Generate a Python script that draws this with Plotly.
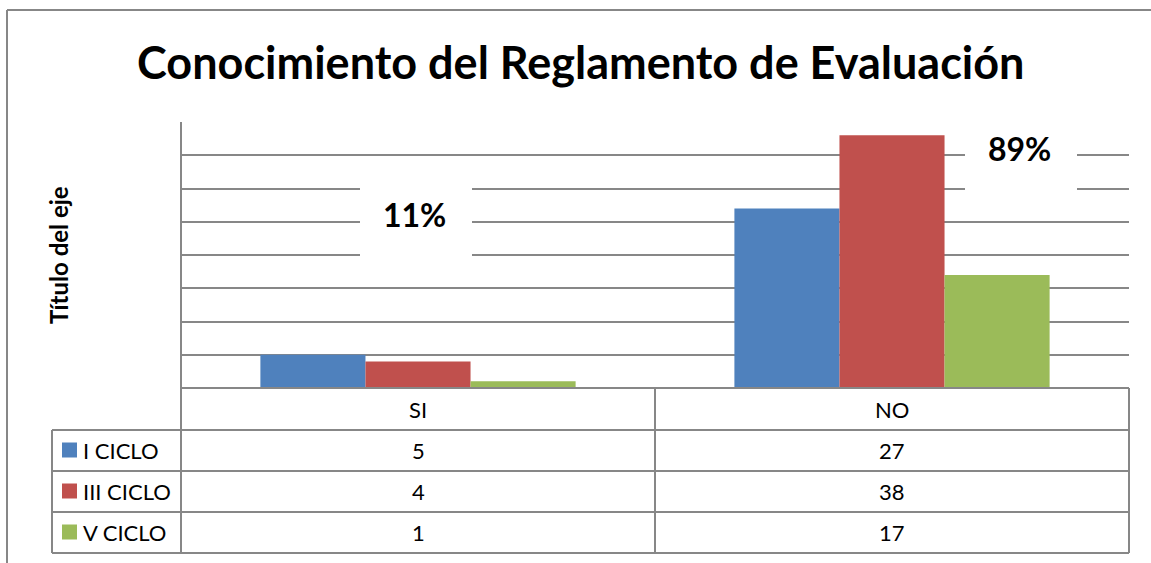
import plotly.graph_objects as go

# ---- data ----
categories = ["SI", "NO"]
series_names = ["I CICLO", "III CICLO", "V CICLO"]
i_ciclo = [5, 27]
iii_ciclo = [4, 38]
v_ciclo = [1, 17]
percent_labels = ["11%", "89%"]
title_text = "Conocimiento del Reglamento de Evaluación"
y_title = "Título del eje"
y_max = 40
y_step = 5

series_values = [i_ciclo, iii_ciclo, v_ciclo]
colors = ["#4F81BD", "#C0504D", "#9BBB59"]

W, H = 1151, 563
FONT = "Lato"
GRID = "#878787"


def px(x):
    return x / W


def py(y):
    return 1 - y / H


fig = go.Figure()
for name, vals, col in zip(series_names, series_values, colors):
    fig.add_trace(go.Bar(x=categories, y=vals, name=name,
                         marker=dict(color=col, line=dict(width=0))))

shapes = []


def line(x0, y0, x1, y1, w=2, color=GRID):
    shapes.append(dict(type="line", xref="paper", yref="paper",
                       x0=px(x0), y0=py(y0), x1=px(x1), y1=py(y1),
                       line=dict(color=color, width=w), layer="above"))


# outer chart border
line(7, 10, 1151, 10)
line(7, 10, 7, 563)
# y axis line
line(181, 122, 181, 553)
# table lines
line(181, 388, 1129, 388)
for yy in [430, 471, 512, 553]:
    line(52, yy, 1129, yy)
line(52, 430, 52, 553)
line(655, 388, 655, 553)
line(1129, 388, 1129, 553)

annotations = []
# title
annotations.append(dict(xref="paper", yref="paper", x=px(581), y=py(62),
                        text=f"<b>{title_text}</b>", showarrow=False,
                        font=dict(family=FONT, size=45, color="black"),
                        xanchor="center", yanchor="middle"))
# y axis title
annotations.append(dict(xref="paper", yref="paper", x=px(58), y=py(255),
                        text=f"<b>{y_title}</b>", showarrow=False, textangle=-90,
                        font=dict(family=FONT, size=24, color="black"),
                        xanchor="center", yanchor="middle"))

# table header + values
col_centers = [418, 892]
row_centers = [450, 491, 532]
for cat, cx in zip(categories, col_centers):
    annotations.append(dict(xref="paper", yref="paper", x=px(cx), y=py(409),
                            text=cat, showarrow=False,
                            font=dict(family=FONT, size=22, color="black"),
                            xanchor="center", yanchor="middle"))
for name, vals, col, ry in zip(series_names, series_values, colors, row_centers):
    shapes.append(dict(type="rect", xref="paper", yref="paper",
                       x0=px(62), x1=px(77), y0=py(ry - 7.5), y1=py(ry + 7.5),
                       fillcolor=col, line=dict(width=0), layer="above"))
    annotations.append(dict(xref="paper", yref="paper", x=px(81), y=py(ry),
                            text=name, showarrow=False,
                            font=dict(family=FONT, size=22, color="black"),
                            xanchor="left", yanchor="middle"))
    for v, cx in zip(vals, col_centers):
        annotations.append(dict(xref="paper", yref="paper", x=px(cx), y=py(ry),
                                text=str(v), showarrow=False,
                                font=dict(family=FONT, size=22, color="black"),
                                xanchor="center", yanchor="middle"))

# percentage text boxes (white background covers gridlines)
pct_boxes = [(360, 472, 186, 257, 414, 215), (965, 1077, 119, 191, 1019, 148)]
for lab, (x0, x1, y0, y1, tx, ty) in zip(percent_labels, pct_boxes):
    shapes.append(dict(type="rect", xref="paper", yref="paper",
                       x0=px(x0), x1=px(x1), y0=py(y1), y1=py(y0),
                       fillcolor="white", line=dict(width=0), layer="above"))
    annotations.append(dict(xref="paper", yref="paper", x=px(tx), y=py(ty),
                            text=f"<b>{lab}</b>", showarrow=False,
                            font=dict(family=FONT, size=32, color="black"),
                            xanchor="center", yanchor="middle"))

fig.update_layout(
    width=W, height=H,
    margin=dict(l=0, r=0, t=0, b=0),
    paper_bgcolor="white", plot_bgcolor="white",
    barmode="group", bargap=0.335, bargroupgap=0,
    showlegend=False,
    shapes=shapes, annotations=annotations,
    xaxis=dict(domain=[px(181), px(1129)], showticklabels=False, showgrid=False,
               zeroline=False, showline=False, ticks=""),
    yaxis=dict(domain=[py(388), py(122)], range=[0, y_max], dtick=y_step,
               showticklabels=False, showgrid=True, gridcolor=GRID, gridwidth=2,
               zeroline=False, showline=False, ticks=""),
)

fig.write_html("out.html", config={"displayModeBar": False},
               post_script="document.body.style.margin='0px';document.body.style.overflow='hidden';")
